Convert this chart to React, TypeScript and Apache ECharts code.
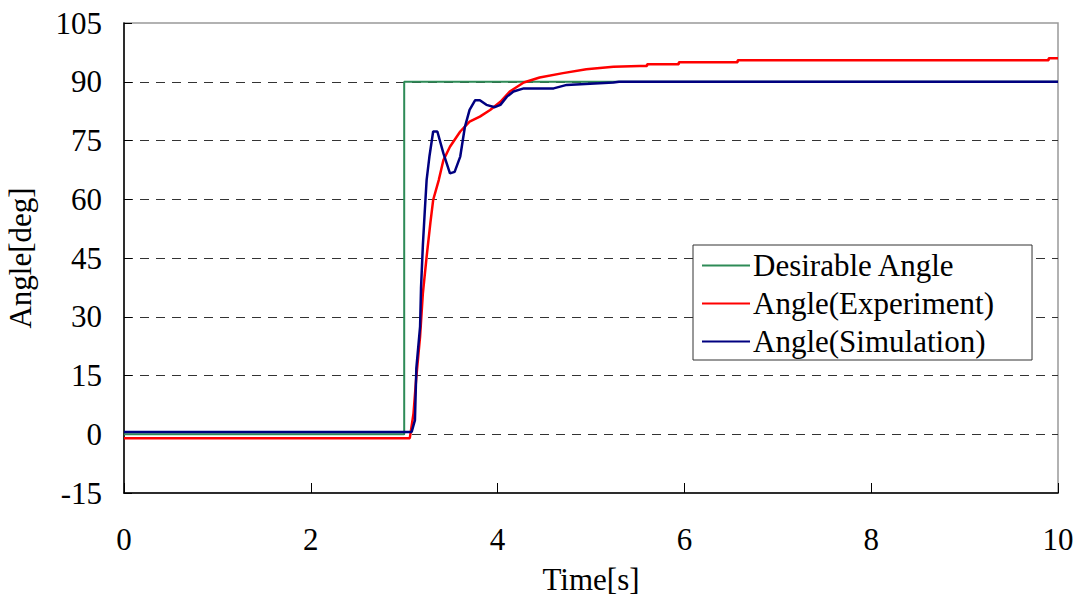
import React, { useEffect, useRef } from "react";
import * as echarts from "echarts";

const xTicks = [0, 2, 4, 6, 8, 10];
const yTicks = [-15, 0, 15, 30, 45, 60, 75, 90, 105];

const desiredT = [0, 3.0, 3.0, 10];
const desiredV = [0, 0, 90, 90];

const expT = [0, 3.06, 3.1, 3.13, 3.17, 3.2, 3.24, 3.28, 3.31, 3.37, 3.42, 3.49, 3.6, 3.7, 3.81, 3.92, 4.03, 4.13, 4.28, 4.45, 4.7, 4.95, 5.24, 5.52, 5.6, 5.6, 5.94, 5.94, 6.57, 6.57, 9.9, 9.9, 10];
const expV = [-1.0, -1.0, 5.4, 14.7, 24.9, 36.0, 45.3, 53.9, 59.8, 64.9, 70.0, 73.4, 77.3, 79.8, 81.1, 82.8, 84.9, 87.5, 89.8, 91.1, 92.2, 93.2, 93.8, 94.0, 94.0, 94.5, 94.5, 95.0, 95.0, 95.5, 95.5, 96.0, 96.0];

const simT = [0, 3.08, 3.115, 3.13, 3.17, 3.18, 3.2, 3.22, 3.24, 3.27, 3.31, 3.355, 3.42, 3.49, 3.54, 3.6, 3.65, 3.7, 3.76, 3.81, 3.88, 3.97, 4.03, 4.1, 4.17, 4.28, 4.6, 4.74, 5.24, 5.3, 10];
const simV = [0.6, 0.6, 3.6, 16.8, 27.5, 37.3, 48.3, 56.8, 64.9, 70.9, 77.3, 77.3, 71.7, 66.6, 67.0, 70.9, 78.5, 82.8, 85.3, 85.3, 84.1, 83.5, 84.1, 86.2, 87.5, 88.3, 88.3, 89.2, 89.8, 90, 90];

const names = ["Desirable Angle", "Angle(Experiment)", "Angle(Simulation)"];
const colors = ["#2e8b57", "#ff0000", "#000080"];

const zip = (t: number[], v: number[]) => t.map((x, i) => [x, v[i]]);

const FONT = "Liberation Serif";
const FS = 31;

export default function App() {
  const ref = useRef<HTMLDivElement>(null);
  useEffect(() => {
    if (!ref.current) return;
    const chart = echarts.init(ref.current, null, { renderer: "svg" });
    chart.setOption({
      animation: false,
      backgroundColor: "#fff",
      textStyle: { fontFamily: FONT },
      grid: {
        left: 124,
        right: 19,
        top: 23,
        bottom: 106,
        containLabel: false,
        outerBoundsMode: "none",
        show: true,
        borderColor: "#999",
        borderWidth: 1.5,
        backgroundColor: "transparent",
      },
      legend: {
        orient: "vertical",
        left: 693,
        top: 245,
        data: names,
        icon: "rect",
        itemWidth: 48,
        itemHeight: 2,
        itemGap: 7,
        padding: [5, 38, 3, 9],
        borderColor: "#333",
        borderWidth: 1,
        backgroundColor: "#fff",
        textStyle: { fontFamily: FONT, fontSize: FS, color: "#000", lineHeight: 31, padding: [0, 0, 0, -2] },
      },
      xAxis: {
        type: "value",
        min: 0,
        max: 10,
        interval: 2,
        name: "Time[s]",
        nameLocation: "middle",
        nameGap: 71,
        nameTextStyle: { fontFamily: FONT, fontSize: FS, color: "#000" },
        axisLine: { show: true, onZero: false, lineStyle: { color: "#000", width: 1.5 } },
        axisTick: { show: true, inside: true, length: 10, lineStyle: { color: "#000", width: 1 } },
        axisLabel: { fontFamily: FONT, fontSize: FS, color: "#000", margin: 31 },
        splitLine: { show: false },
      },
      yAxis: {
        type: "value",
        min: yTicks[0],
        max: yTicks[yTicks.length - 1],
        interval: 15,
        name: "Angle[deg]",
        nameLocation: "middle",
        nameGap: 88,
        nameRotate: 90,
        nameTextStyle: { fontFamily: FONT, fontSize: FS, color: "#000" },
        axisLine: { show: true, onZero: false, lineStyle: { color: "#000", width: 1.5 } },
        axisTick: { show: true, inside: true, length: 8, lineStyle: { color: "#000", width: 1 } },
        axisLabel: { fontFamily: FONT, fontSize: FS, color: "#000", margin: 22 },
        splitLine: {
          show: true,
          lineStyle: { color: "#333", width: 1, type: [9, 7] },
          showMinLine: false,
          showMaxLine: false,
        },
      },
      series: [
        {
          name: names[0],
          type: "line",
          data: zip(desiredT, desiredV),
          showSymbol: false,
          lineStyle: { color: colors[0], width: 2 },
          itemStyle: { color: colors[0] },
        },
        {
          name: names[1],
          type: "line",
          data: zip(expT, expV),
          showSymbol: false,
          lineStyle: { color: colors[1], width: 2.5 },
          itemStyle: { color: colors[1] },
        },
        {
          name: names[2],
          type: "line",
          data: zip(simT, simV),
          showSymbol: false,
          lineStyle: { color: colors[2], width: 2.5 },
          itemStyle: { color: colors[2] },
        },
      ],
    });
    return () => chart.dispose();
  }, []);
  return <div ref={ref} style={{ width: 1077, height: 599, position: "absolute", left: 0, top: 0 }} />;
}
